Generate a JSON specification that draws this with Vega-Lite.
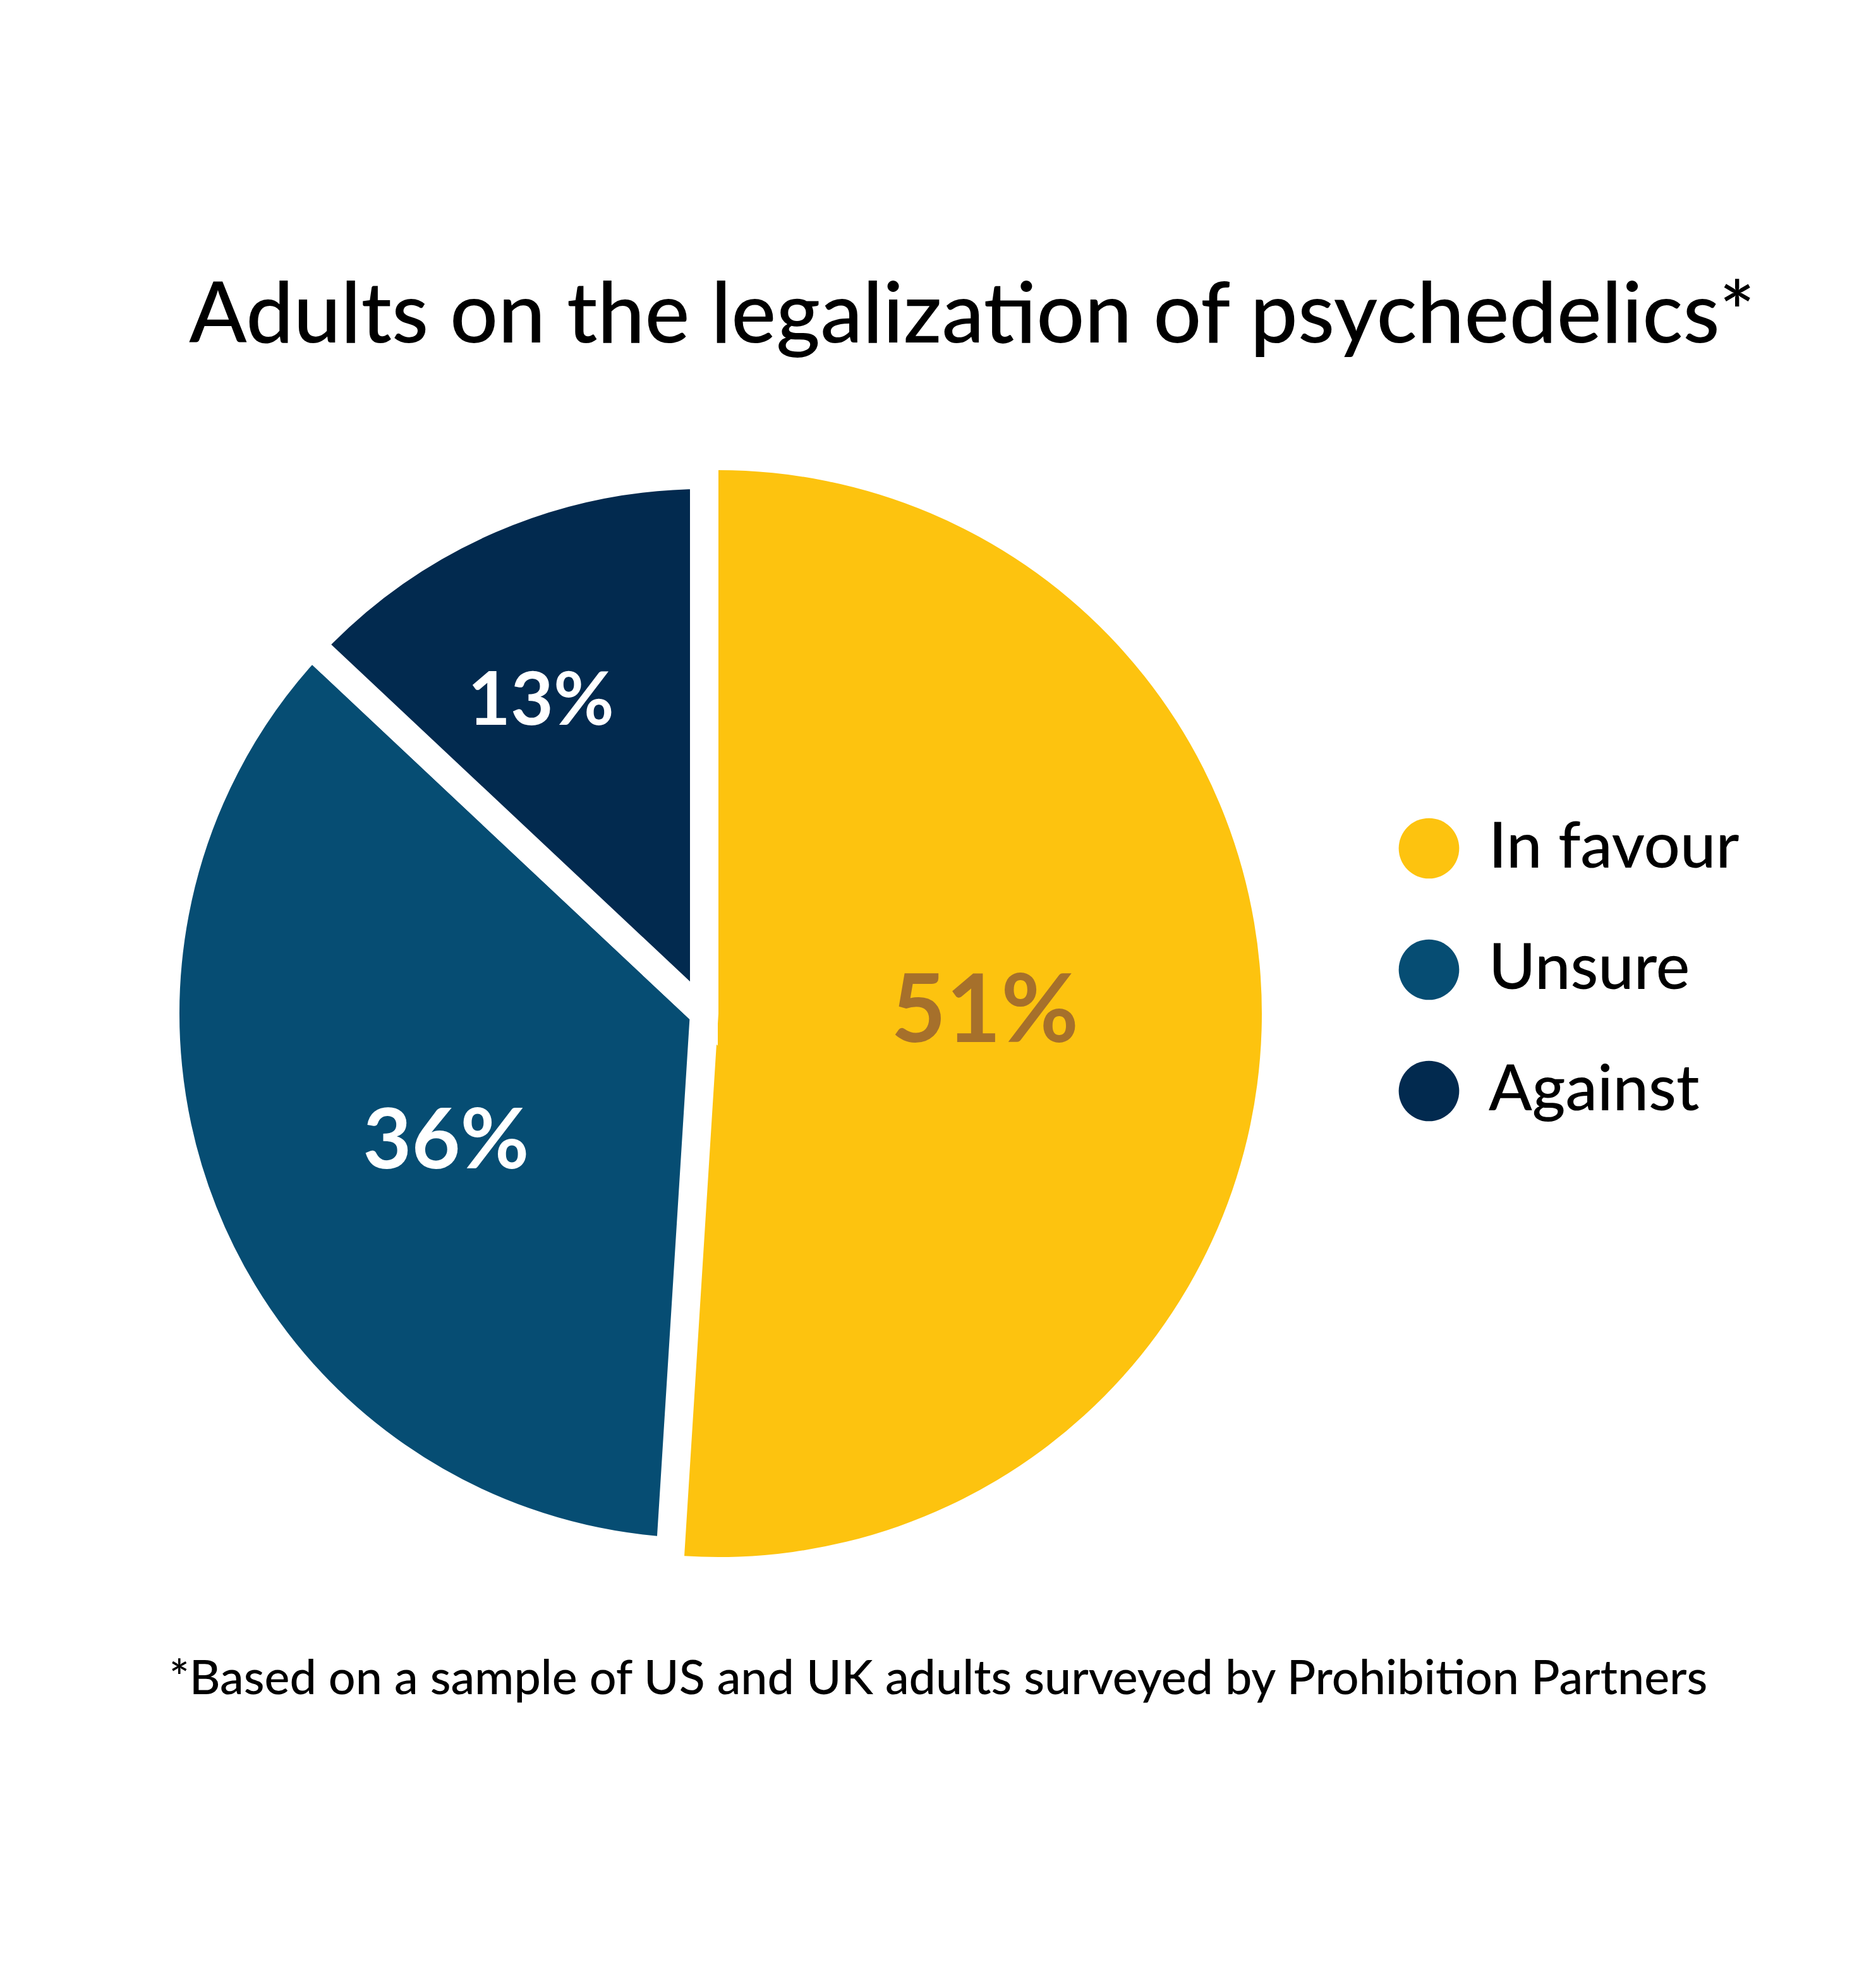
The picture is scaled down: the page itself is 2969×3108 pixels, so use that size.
{
  "$schema": "https://vega.github.io/schema/vega-lite/v6.json",
  "background": "white",
  "padding": {"left": 174, "top": 435, "right": 0, "bottom": 0},
  "title": {
    "text": "Adults on the legalization of psychedelics*",
    "font": "Lato",
    "fontSize": 134,
    "fontWeight": 500,
    "color": "#000000",
    "anchor": "middle",
    "dx": 75,
    "offset": 94
  },
  "config": {
    "view": {"stroke": null},
    "font": "Lato"
  },
  "vconcat": [
    {
      "width": 1780,
      "height": 1780,
      "title": {
        "text": "*Based on a sample of US and UK adults surveyed by Prohibition Partners",
        "orient": "bottom",
        "anchor": "middle",
        "font": "Lato",
        "fontSize": 75.4,
        "fontWeight": 500,
        "color": "#000000",
        "dx": 371,
        "offset": 79
      },
      "data": {
        "values": [
          {"answer": "In favour", "value": 51, "label": "51%", "ord": 1},
          {"answer": "Unsure", "value": 36, "label": "36%", "ord": 2},
          {"answer": "Against", "value": 13, "label": "13%", "ord": 3}
        ]
      },
      "encoding": {
        "theta": {"field": "value", "type": "quantitative", "stack": true},
        "order": {"field": "ord", "type": "quantitative"}
      },
      "layer": [
        {
          "mark": {"type": "arc", "outerRadius": 860, "xOffset": 23},
          "encoding": {
            "color": {
              "field": "answer",
              "type": "nominal",
              "scale": {"domain": ["In favour", "Unsure", "Against"], "range": ["#FDC30F", "#064D73", "#022A4F"]},
              "legend": {
                "title": null,
                "orient": "none",
                "legendX": 1987,
                "legendY": 578,
                "padding": 0,
                "symbolType": "circle",
                "symbolSize": 9160,
                "symbolStrokeWidth": 0,
                "symbolOpacity": 1,
                "labelFont": "Lato",
                "labelFontSize": 101,
                "labelFontWeight": 500,
                "labelColor": "#000000",
                "labelOffset": 44,
                "rowPadding": 90,
                "labelLimit": 1000
              }
            },
            "opacity": {"condition": {"test": "datum.answer === 'In favour'", "value": 1}, "value": 0}
          }
        },
        {
          "mark": {"type": "arc", "outerRadius": 852, "stroke": "white", "strokeWidth": 44, "strokeJoin": "miter"},
          "encoding": {
            "color": {"field": "answer", "type": "nominal"},
            "opacity": {"condition": {"test": "datum.answer === 'In favour'", "value": 0}, "value": 1}
          }
        },
        {
          "mark": {"type": "text", "radius": 441, "dx": 4, "dy": -14, "font": "Lato", "fontWeight": 700, "fontSize": 150, "color": "#A6702B", "align": "center", "baseline": "middle"},
          "encoding": {
            "text": {"condition": {"test": "datum.answer === 'In favour'", "field": "label", "type": "nominal"}, "value": ""}
          }
        },
        {
          "mark": {"type": "text", "radius": 454, "dx": 14, "dy": 38, "font": "Lato", "fontWeight": 700, "fontSize": 133, "color": "#FFFFFF", "align": "center", "baseline": "middle"},
          "encoding": {
            "text": {"condition": {"test": "datum.answer === 'Unsure'", "field": "label", "type": "nominal"}, "value": ""}
          }
        },
        {
          "mark": {"type": "text", "radius": 554, "dx": -38, "dy": 16, "font": "Lato", "fontWeight": 700, "fontSize": 117, "color": "#FFFFFF", "align": "center", "baseline": "middle"},
          "encoding": {
            "text": {"condition": {"test": "datum.answer === 'Against'", "field": "label", "type": "nominal"}, "value": ""}
          }
        }
      ]
    }
  ]
}
